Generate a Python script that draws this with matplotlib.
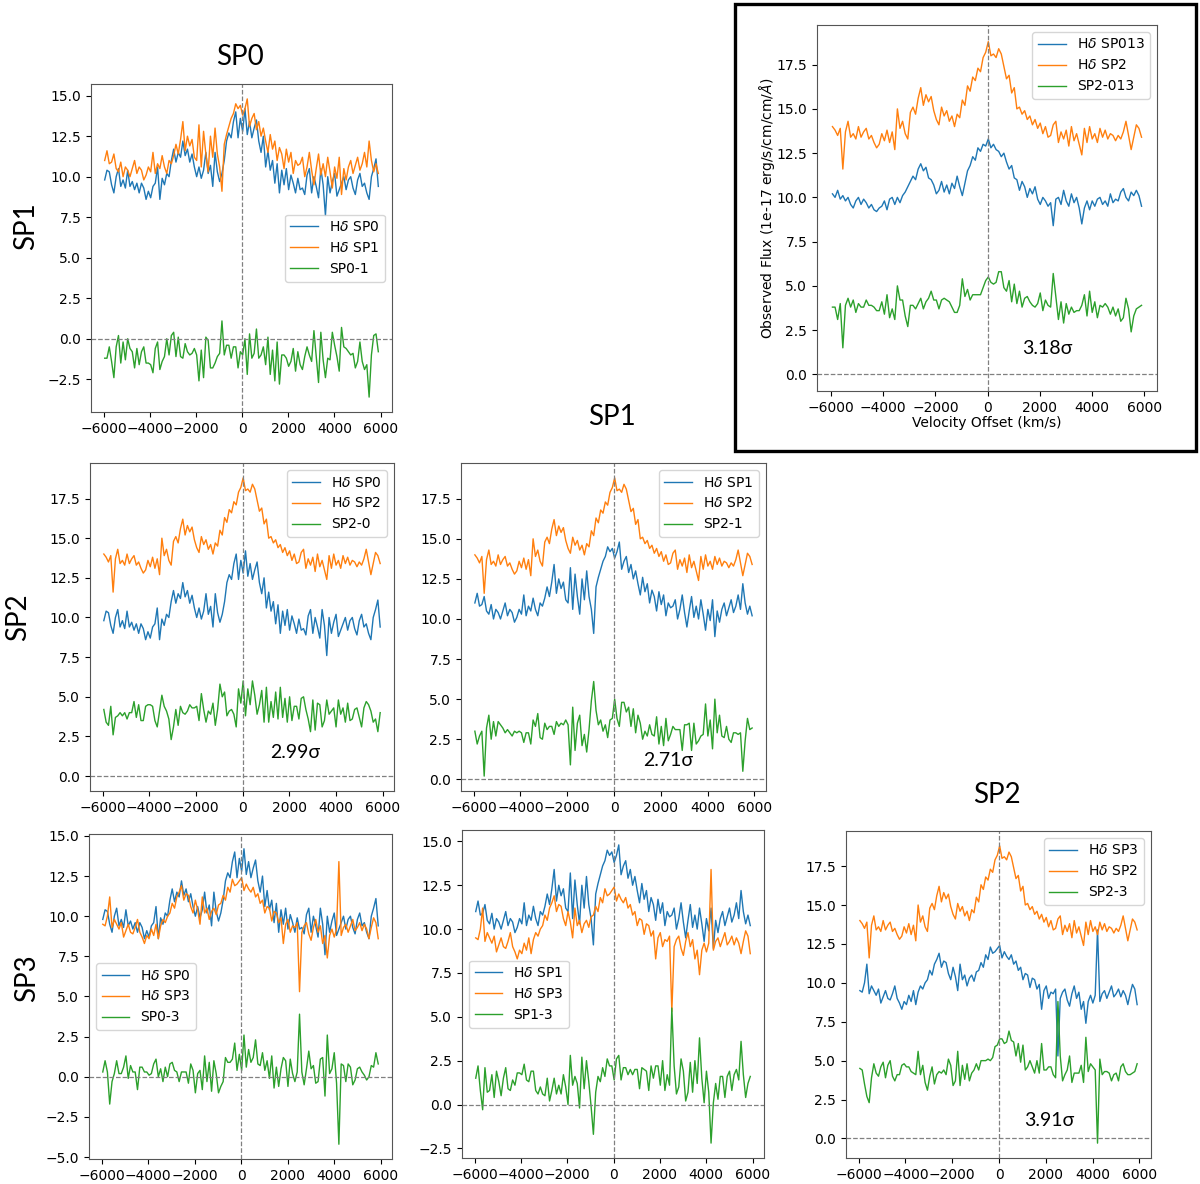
import numpy as np
import matplotlib
matplotlib.use("Agg")
import matplotlib.pyplot as plt
from matplotlib.patches import Rectangle

# ── Data (velocity offset grid, km/s, and H-delta spectra) ─────────────
velocity = np.linspace(-5950, 5900, 120)

sp0 = np.array([
    9.8, 10.4, 10.3, 9.5, 9.0, 10.0, 10.5, 9.4, 9.8, 9.3,
    10.4, 9.4, 9.7, 9.2, 9.6, 9.0, 9.6, 9.3, 8.6, 9.1,
    8.7, 9.4, 9.6, 10.6, 8.6, 9.9, 9.5, 10.2, 10.0, 11.0,
    11.7, 10.9, 11.5, 11.2, 12.2, 11.3, 11.7, 10.9, 11.4, 10.6,
    10.0, 10.6, 9.9, 10.4, 11.5, 10.2, 10.7, 9.4, 11.5, 10.3,
    9.7, 10.2, 11.0, 12.2, 12.7, 12.4, 13.4, 14.0, 12.4, 13.6,
    12.8, 14.2, 12.6, 13.4, 12.4, 13.0, 13.5, 12.2, 11.5, 12.5,
    10.6, 11.6, 10.4, 11.0, 9.6, 10.8, 9.0, 10.4, 9.5, 10.5,
    9.2, 10.1, 9.6, 9.0, 9.9, 9.2, 9.3, 8.9, 10.1, 10.5,
    9.0, 10.0, 9.4, 8.7, 10.5, 9.5, 7.6, 10.0, 9.0, 9.7,
    10.2, 8.8, 9.2, 9.6, 10.0, 9.2, 9.8, 10.0, 9.3, 8.9,
    9.8, 10.2, 9.4, 9.6, 9.0, 8.6, 10.0, 10.5, 11.1, 9.4,
])

sp1 = np.array([
    11.0, 11.6, 10.8, 10.9, 11.4, 10.5, 10.3, 10.9, 10.0, 10.6,
    10.4, 10.0, 10.5, 11.0, 10.2, 10.6, 10.4, 9.8, 10.1, 10.6,
    10.3, 11.5, 10.2, 10.8, 10.5, 11.3, 10.6, 10.2, 11.0, 10.8,
    11.3, 12.0, 11.4, 12.3, 13.4, 11.6, 12.5, 11.9, 12.3, 11.2,
    11.0, 13.2, 10.6, 12.8, 11.4, 10.3, 12.5, 11.2, 13.0, 11.4,
    10.6, 9.1, 12.0, 12.6, 13.1, 13.6, 13.9, 14.5, 14.2, 14.4,
    13.8, 14.2, 14.8, 13.1, 13.6, 13.9, 12.9, 13.4, 12.5, 13.0,
    12.2, 11.5, 12.6, 11.7, 12.2, 11.0, 11.8, 11.4, 10.5, 11.7,
    10.9, 11.5, 10.2, 11.0, 10.7, 10.8, 11.2, 10.0, 10.6, 11.5,
    10.4, 9.5, 10.5, 11.4, 10.1, 10.8, 10.0, 11.2, 10.3, 9.3,
    10.6, 9.9, 11.2, 8.9, 10.5, 9.8, 10.6, 11.0, 10.2, 10.7,
    11.2, 10.4, 10.8, 11.5, 10.6, 12.2, 11.0, 10.3, 10.8, 10.2,
])

sp2 = np.array([
    14.0, 13.8, 13.5, 13.9, 11.6, 13.7, 14.3, 13.4, 13.6, 13.3,
    14.0, 13.4, 13.7, 13.9, 13.3, 13.5, 13.1, 12.8, 13.0, 13.6,
    13.2, 13.8, 13.1, 13.7, 12.7, 15.0, 13.9, 14.3, 13.6, 13.3,
    14.8, 15.1, 14.7, 15.6, 16.2, 15.2, 15.8, 15.4, 15.7, 14.9,
    14.4, 14.1, 15.1, 14.6, 14.9, 14.3, 14.6, 14.0, 14.7, 14.5,
    15.5, 15.2, 16.3, 16.0, 16.8, 16.6, 17.3, 17.1, 17.9, 18.2,
    18.8, 18.0, 18.1, 17.9, 18.4, 18.1, 17.4, 16.7, 16.9, 15.9,
    16.2, 15.0, 15.1, 14.7, 14.9, 14.4, 14.6, 14.1, 14.4, 13.9,
    14.2, 13.6, 14.0, 13.4, 13.5, 14.1, 14.3, 13.1, 13.7, 13.3,
    13.8, 12.9, 14.0, 13.2, 13.6, 13.0, 12.4, 13.9, 13.1, 14.0,
    13.3, 13.6, 13.1, 13.9, 13.4, 13.8, 13.3, 13.6, 13.5, 13.2,
    13.5, 13.3, 13.7, 14.3, 13.5, 12.7, 13.4, 14.1, 13.9, 13.4,
])

sp3 = np.array([
    9.5, 9.4, 10.0, 11.2, 9.3, 9.8, 9.5, 9.2, 9.6, 8.7,
    9.1, 9.5, 9.0, 8.9, 9.3, 9.8, 9.0, 8.7, 8.3, 8.8,
    8.6, 9.2, 8.8, 9.5, 8.6, 9.4, 9.8, 9.6, 10.0, 10.2,
    10.8, 10.5, 11.2, 11.5, 11.9, 11.0, 11.4, 11.3, 10.6, 10.2,
    11.0, 10.4, 9.5, 11.2, 10.2, 10.5, 9.8, 10.3, 10.5, 10.1,
    10.7, 10.8, 11.3, 11.0, 11.8, 11.5, 12.3, 11.9, 12.0, 12.2,
    12.4, 11.6, 12.0, 11.7, 11.5, 11.8, 11.2, 11.4, 10.8, 11.0,
    10.2, 10.6, 10.5, 9.7, 10.3, 10.2, 9.6, 9.9, 8.3, 9.5,
    9.8, 9.0, 9.4, 9.3, 9.6, 5.3, 9.0, 9.4, 9.6, 8.9,
    8.5, 9.3, 9.8, 9.0, 9.4, 8.3, 8.8, 7.4, 8.8, 9.2,
    8.7, 9.2, 13.4, 8.8, 9.3, 9.5, 9.0, 9.4, 9.8, 9.1,
    9.3, 9.6, 9.1, 9.5, 9.2, 8.6, 9.3, 9.9, 9.6, 8.6,
])

sp013 = np.array([
    10.2, 10.0, 10.4, 9.9, 10.1, 9.8, 10.0, 9.6, 9.4, 9.8,
    10.0, 9.6, 9.9, 9.7, 9.4, 9.6, 9.3, 9.2, 9.4, 9.5,
    9.8, 9.3, 9.9, 10.0, 9.6, 10.0, 9.7, 10.1, 10.3, 10.6,
    10.9, 11.2, 11.0, 11.6, 11.9, 11.5, 11.7, 11.1, 11.0, 10.7,
    10.2, 10.4, 10.9, 10.3, 10.7, 10.2, 10.8, 10.5, 11.2, 10.6,
    10.1, 10.8, 11.5, 11.8, 12.3, 12.1, 12.8, 12.6, 13.0, 12.9,
    13.3, 12.8, 13.0, 12.7, 12.6, 12.3, 12.5, 12.0, 11.6, 11.8,
    11.1, 11.0, 10.4, 10.9, 10.6, 10.0, 10.5, 10.2, 10.6, 9.9,
    9.6, 10.0, 9.8, 9.5, 9.7, 8.4, 9.9, 10.0, 9.6, 10.4,
    9.8, 9.5, 10.2, 9.7, 10.0, 9.4, 8.5, 9.4, 9.8, 9.3,
    9.8, 9.5, 9.9, 10.0, 9.6, 9.8, 9.5, 10.2, 9.7, 9.9,
    9.8, 10.3, 10.5, 10.0, 9.8, 10.3, 10.1, 10.4, 10.1, 9.5,
])

col_titles = ["SP0", "SP1", "SP2"]
row_titles = ["SP1", "SP2", "SP3"]
sigma_values = ["3.18σ", "2.99σ", "2.71σ", "3.91σ"]

W, H = 1200, 1184


def fx(px):
    return px / W


def fy(py):
    return 1 - py / H


def rect(left, top, right, bottom):
    return [fx(left), fy(bottom), fx(right) - fx(left), fy(top) - fy(bottom)]


# panel: (axes box in px, blue, orange, green, labels, legend loc)
panels = [
    (rect(91, 84, 392, 412), sp0, sp1, sp0 - sp1,
     [r"H$\delta$ SP0", r"H$\delta$ SP1", "SP0-1"], "center right"),
    (rect(817, 25, 1157, 391), sp013, sp2, sp2 - sp013,
     [r"H$\delta$ SP013", r"H$\delta$ SP2", "SP2-013"], "upper right"),
    (rect(90, 463, 394, 791), sp0, sp2, sp2 - sp0,
     [r"H$\delta$ SP0", r"H$\delta$ SP2", "SP2-0"], "upper right"),
    (rect(461, 463, 766, 791), sp1, sp2, sp2 - sp1,
     [r"H$\delta$ SP1", r"H$\delta$ SP2", "SP2-1"], "upper right"),
    (rect(89, 834, 392, 1159), sp0, sp3, sp0 - sp3,
     [r"H$\delta$ SP0", r"H$\delta$ SP3", "SP0-3"], "center left"),
    (rect(462, 830, 764, 1158), sp1, sp3, sp1 - sp3,
     [r"H$\delta$ SP1", r"H$\delta$ SP3", "SP1-3"], "center left"),
    (rect(846, 831, 1151, 1158), sp3, sp2, sp2 - sp3,
     [r"H$\delta$ SP3", r"H$\delta$ SP2", "SP2-3"], "upper right"),
]

fig = plt.figure(figsize=(12, 11.84), dpi=100)

for i, (box, blue, orange, green, labels, loc) in enumerate(panels):
    ax = fig.add_axes(box)
    ax.plot(velocity, blue, color="#1f77b4", lw=1.0, label=labels[0])
    ax.plot(velocity, orange, color="#ff7f0e", lw=1.0, label=labels[1])
    ax.plot(velocity, green, color="#2ca02c", lw=1.0, label=labels[2])
    ax.axvline(0, color="gray", ls="--", lw=0.9)
    ax.axhline(0, color="gray", ls="--", lw=0.9)
    ax.set_xticks([-6000, -4000, -2000, 0, 2000, 4000, 6000])
    ax.tick_params(labelsize=10)
    for s in ax.spines.values():
        s.set_color("#555555")
    ax.legend(loc=loc, fontsize=10)
    if i == 1:
        ax.set_xlabel("Velocity Offset (km/s)", fontsize=10, labelpad=1)
        ax.set_ylabel(r"Observed Flux (1e-17 erg/s/cm/cm/$\AA$)", fontsize=10,
                      labelpad=0)

# box around the summary panel
fig.patches.append(Rectangle((fx(735), fy(451)), fx(1196) - fx(735), fy(4) - fy(451),
                             transform=fig.transFigure, fill=False,
                             edgecolor="black", lw=2.4))

big = dict(family=["Lato", "DejaVu Sans"], fontsize=20, ha="center", va="center")
fig.text(fx(240), fy(57), col_titles[0], **big)
fig.text(fx(612), fy(417), col_titles[1], **big)
fig.text(fx(997), fy(795), col_titles[2], **big)
fig.text(fx(26), fy(226), row_titles[0], rotation=90, **big)
fig.text(fx(18), fy(617), row_titles[1], rotation=90, **big)
fig.text(fx(27), fy(978), row_titles[2], rotation=90, **big)

sig = dict(family=["Lato", "DejaVu Sans"], fontsize=14, ha="center", va="center")
fig.text(fx(1047), fy(349), sigma_values[0], **sig)
fig.text(fx(295), fy(753), sigma_values[1], **sig)
fig.text(fx(668), fy(760), sigma_values[2], **sig)
fig.text(fx(1049), fy(1120), sigma_values[3], **sig)

fig.savefig("out.png", dpi=100)
